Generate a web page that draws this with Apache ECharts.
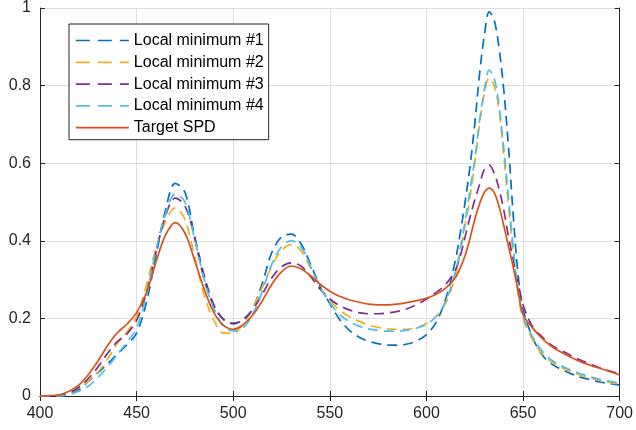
<!DOCTYPE html>
<html>
<head>
<meta charset="utf-8">
<script src="https://cdn.jsdelivr.net/npm/echarts@6/dist/echarts.min.js"></script>
<style>html,body{margin:0;padding:0;background:#fff}#c{width:636px;height:430px}</style>
</head>
<body>
<div id="c"></div>
<script>
const wavelengths = [400,405,410,415,420,425,430,435,440,445,450,455,460,465,470,475,480,485,490,495,500,505,510,515,520,525,530,535,540,545,550,555,560,565,570,575,580,585,590,595,600,605,610,615,617.5,620,622.5,625,627.5,630,632.5,635,637.5,640,642.5,645,647.5,650,655,660,665,670,675,680,685,690,695,700];

const localMin1 = [0,0,0,0.004,0.016,0.038,0.06,0.083,0.108,0.132,0.162,0.24,0.36,0.48,0.548,0.525,0.41,0.3,0.232,0.197,0.186,0.197,0.225,0.29,0.37,0.41,0.417,0.393,0.34,0.282,0.238,0.198,0.17,0.152,0.141,0.135,0.131,0.131,0.134,0.142,0.158,0.19,0.25,0.35,0.42,0.5,0.59,0.7,0.83,0.93,0.99,0.97,0.9,0.79,0.64,0.46,0.31,0.225,0.15,0.105,0.082,0.068,0.057,0.048,0.042,0.036,0.032,0.028];

const localMin2 = [0,0,0.001,0.006,0.02,0.038,0.062,0.095,0.135,0.165,0.205,0.285,0.38,0.45,0.485,0.455,0.36,0.26,0.195,0.162,0.162,0.185,0.225,0.28,0.335,0.375,0.39,0.375,0.33,0.28,0.245,0.222,0.205,0.193,0.183,0.177,0.173,0.172,0.172,0.177,0.187,0.205,0.24,0.31,0.37,0.44,0.51,0.6,0.7,0.78,0.82,0.8,0.74,0.62,0.49,0.36,0.26,0.2,0.145,0.108,0.087,0.073,0.062,0.053,0.046,0.04,0.035,0.031];

const localMin3 = [0,0,0.002,0.008,0.022,0.045,0.075,0.11,0.14,0.16,0.195,0.265,0.37,0.465,0.51,0.49,0.41,0.31,0.235,0.198,0.188,0.195,0.222,0.262,0.305,0.333,0.343,0.335,0.308,0.275,0.25,0.233,0.222,0.215,0.212,0.212,0.214,0.218,0.225,0.236,0.25,0.267,0.288,0.325,0.36,0.41,0.46,0.505,0.545,0.585,0.595,0.575,0.535,0.48,0.41,0.35,0.29,0.235,0.178,0.152,0.13,0.117,0.104,0.092,0.082,0.072,0.064,0.057];

const localMin4 = [0,0,0,0.003,0.012,0.025,0.048,0.075,0.107,0.138,0.175,0.26,0.375,0.47,0.52,0.5,0.405,0.3,0.225,0.18,0.168,0.175,0.21,0.27,0.34,0.385,0.4,0.385,0.335,0.28,0.24,0.21,0.192,0.18,0.173,0.169,0.167,0.167,0.17,0.175,0.185,0.205,0.245,0.32,0.38,0.45,0.53,0.61,0.71,0.79,0.84,0.82,0.75,0.64,0.51,0.38,0.27,0.205,0.152,0.115,0.092,0.077,0.066,0.057,0.049,0.043,0.038,0.034];

const targetSPD = [0,0.001,0.003,0.012,0.028,0.055,0.09,0.13,0.163,0.185,0.215,0.265,0.345,0.415,0.447,0.42,0.35,0.275,0.215,0.182,0.172,0.183,0.208,0.245,0.288,0.32,0.335,0.328,0.31,0.288,0.27,0.257,0.248,0.242,0.237,0.235,0.235,0.237,0.241,0.246,0.252,0.262,0.278,0.305,0.33,0.362,0.405,0.455,0.495,0.525,0.536,0.525,0.49,0.44,0.385,0.33,0.27,0.21,0.175,0.148,0.127,0.112,0.099,0.088,0.079,0.071,0.063,0.054];

const xTicks = {min: 400, max: 700, step: 50};
const yTicks = {min: 0, max: 1, step: 0.2};

const seriesNames = ['Local minimum #1','Local minimum #2','Local minimum #3','Local minimum #4','Target SPD'];
const seriesValues = [localMin1, localMin2, localMin3, localMin4, targetSPD];
const colors = ['#0072BD','#EDB120','#7E2F8E','#4DBEEE','#D95319'];
const dashed = [true,true,true,true,false];

const font = '"Liberation Sans", Arial, Helvetica, sans-serif';
const axisColor = '#262626';

const chart = echarts.init(document.getElementById('c'), null, {renderer: 'canvas'});

const series = seriesNames.map((name, i) => ({
  name: name,
  type: 'line',
  xAxisIndex: 0,
  yAxisIndex: 0,
  showSymbol: false,
  symbol: 'none',
  smooth: 0.35,
  animation: false,
  lineStyle: {color: colors[i], width: 1.7, type: dashed[i] ? [10, 6] : 'solid'},
  itemStyle: {color: colors[i]},
  data: wavelengths.map((w, k) => [w, seriesValues[i][k]])
}));

const legendData = seriesNames.map((name, i) => ({
  name: name,
  itemStyle: {opacity: 0},
  lineStyle: {color: colors[i], width: 1.7, type: dashed[i] ? [14, 8] : 'solid', opacity: 1}
}));

const baseX = {
  type: 'value', min: xTicks.min, max: xTicks.max, interval: xTicks.step,
  axisLine: {show: true, lineStyle: {color: axisColor, width: 1}},
  axisTick: {show: true, inside: true, length: 5, lineStyle: {color: axisColor}},
};
const baseY = {
  type: 'value', min: yTicks.min, max: yTicks.max, interval: yTicks.step,
  axisLine: {show: true, lineStyle: {color: axisColor, width: 1}},
  axisTick: {show: true, inside: true, length: 5, lineStyle: {color: axisColor}},
};

chart.setOption({
  backgroundColor: '#fff',
  animation: false,
  grid: {left: 40, right: 14, top: 7, bottom: 34, containLabel: false},
  xAxis: [
    Object.assign({}, baseX, {
      position: 'bottom',
      axisLabel: {color: axisColor, fontSize: 16, fontFamily: font, margin: 10},
      splitLine: {show: true, lineStyle: {color: '#dedede', width: 1}}
    }),
    Object.assign({}, baseX, {
      position: 'top',
      axisLabel: {show: false},
      splitLine: {show: false}
    })
  ],
  yAxis: [
    Object.assign({}, baseY, {
      position: 'left',
      axisLabel: {color: axisColor, fontSize: 16, fontFamily: font, margin: 9},
      splitLine: {show: true, lineStyle: {color: '#dedede', width: 1}}
    }),
    Object.assign({}, baseY, {
      position: 'right',
      axisLabel: {show: false},
      splitLine: {show: false}
    })
  ],
  legend: {
    orient: 'vertical',
    left: 69, top: 24,
    data: legendData,
    itemWidth: 53, itemHeight: 16, itemGap: 5.8,
    padding: [8.5, 5, 4, 6],
    backgroundColor: '#fff',
    borderColor: axisColor, borderWidth: 1, borderRadius: 0,
    itemStyle: {opacity: 0},
    textStyle: {fontSize: 16, fontFamily: font, color: '#000', lineHeight: 16},
    selectedMode: false
  },
  series: series
});
</script>
</body>
</html>
